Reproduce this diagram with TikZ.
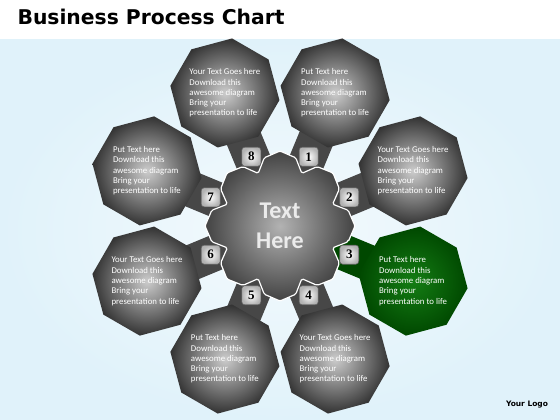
\documentclass[tikz,border=0pt]{standalone}
\usepackage{fontspec}
\setmainfont{Carlito}
\newfontfamily\titlefont{DejaVu Sans}
\newfontfamily\numfont{Liberation Serif}
\usetikzlibrary{shapes.geometric}

\definecolor{bgblue}{RGB}{224,242,250}
\definecolor{bglight}{RGB}{244,250,253}
\definecolor{leafgreen}{RGB}{20,125,20}
\definecolor{leafgreendark}{RGB}{0,72,0}

\newcommand{\puttext}{Put Text here\\Download this\\awesome diagram\\Bring your\\presentation to life}
\newcommand{\yourtext}{Your Text Goes here\\Download this\\awesome diagram\\Bring your\\presentation to life}

\pgfdeclarelayer{back}
\pgfdeclarelayer{necks}
\pgfsetlayers{back,necks,main}

\begin{document}
\begin{tikzpicture}[x=1pt,y=1pt,
    petal/.style={regular polygon, regular polygon sides=8, minimum size=110,
        shape border rotate=15, inner sep=0, shading=radial,
        text=white, align=left, font=\fontsize{8.8}{10.3}\selectfont},
    neck/.style={line width=36},
    hub/.style={circle, minimum size=110, inner sep=0, text=black!8,
        align=center, font=\bfseries\fontsize{24}{30}\selectfont},
    gear/.style={shading=radial, inner color=black!30, outer color=black!74,
        draw=white, line width=1.2, rounded corners=1.5},
    badge/.style={rectangle, minimum size=19, rounded corners=3, inner sep=0,
        shading=radial, inner color=white, outer color=black!30,
        draw=black!60, line width=0.6, font=\numfont\bfseries\fontsize{13}{13}\selectfont}]

    \useasboundingbox (0,0) rectangle (560,-420);
    \begin{pgfonlayer}{back}
        \fill[white] (0,0) rectangle (560,-40);
        \shade[inner color=bglight, outer color=bgblue] (0,-40) rectangle (560,-420);
    \end{pgfonlayer}

    \node[anchor=base west, font=\titlefont\bfseries\fontsize{20.3}{21}\selectfont] (title) at (14,-25) {Business Process Chart};
    \node[font=\titlefont\bfseries\fontsize{7.5}{8}\selectfont] (logo) at (527,-405) {Your Logo};

    \foreach \i/\ang/\txt/\lite/\dark in {
        1/67.5/\puttext/black!20/black!80,
        2/22.5/\yourtext/black!20/black!80,
        3/-22.5/\puttext/leafgreen/leafgreendark,
        4/-67.5/\yourtext/black!20/black!80,
        5/-112.5/\puttext/black!20/black!80,
        6/-157.5/\yourtext/black!20/black!80,
        7/157.5/\puttext/black!20/black!80,
        8/112.5/\yourtext/black!20/black!80}
    {
        \node[petal, inner color=\lite, outer color=\dark] (p\i) at ([shift={(\ang:144)}]280,-226) {\txt};
    }

    \shade[gear, shift={(280,-226)}] (-13:70)
        \foreach \k in {0,45,...,315} {-- (\k-13:70) -- (\k:75) -- (\k+13:70) -- (\k+22.5:57)} -- cycle;
    \node[hub] (hub) at (280,-226) {Text\\Here};

    \foreach \i/\ang/\dark in {1/67.5/black!72, 2/22.5/black!72, 3/-22.5/leafgreendark,
        4/-67.5/black!72, 5/-112.5/black!72, 6/-157.5/black!72, 7/157.5/black!72, 8/112.5/black!72}
    {
        \begin{pgfonlayer}{necks}
            \draw[neck, draw=\dark] (hub.center) -- (p\i.center);
        \end{pgfonlayer}
        \node[badge] (b\i) at ([shift={(\ang:75)}]hub.center) {\i};
    }
\end{tikzpicture}
\end{document}
